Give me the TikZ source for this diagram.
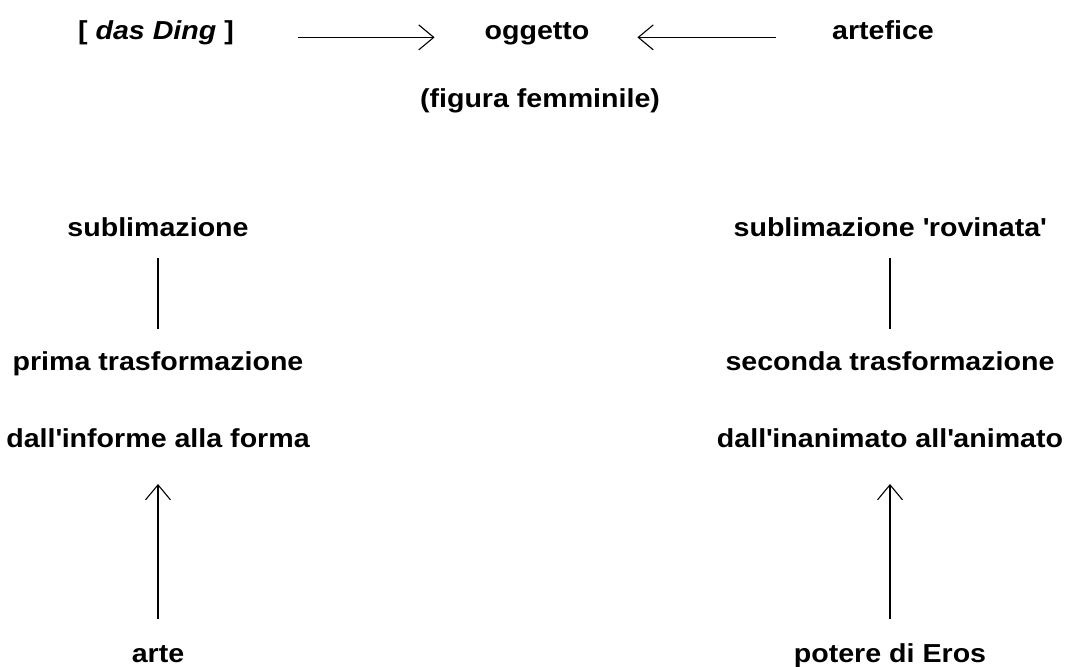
\documentclass[tikz,border=0pt]{standalone}
\usepackage{fontspec}
\setmainfont{Liberation Sans}[FakeStretch=1.1]
\usepackage{tikz}
\usetikzlibrary{arrows.meta}

\begin{document}
\begin{tikzpicture}[
  x=1pt, y=-1pt,
  lbl/.style={anchor=base, inner sep=0pt, outer sep=0pt,
              text height=19pt, text depth=5pt,
              font=\fontsize{26}{30}\selectfont\bfseries},
  arr/.style={-{Straight Barb[length=15pt,width=25pt]}, line width=1.1pt},
  link/.style={line width=1.1pt}
]
\useasboundingbox (0,0) rectangle (1067,666);

% riga in alto
\node[lbl] (ding) at (156,40) {[ \textit{das Ding} ]};
\node[lbl] (ogg)  at (537,40) {oggetto};
\node[lbl] (art)  at (883,40) {artefice};
\node[lbl] (fig)  at (540,107) {(figura femminile)};
\draw[arr, shorten <=64pt, shorten >=50pt] (ding.mid east) -- (ogg.mid west);
\draw[arr, shorten <=56pt, shorten >=48pt] (art.mid west) -- (ogg.mid east);

% colonna sinistra
\node[lbl] (sub1)  at (158,236) {sublimazione};
\node[lbl] (tra1)  at (158,370) {prima trasformazione};
\node[lbl] (dal1)  at (158,447) {dall\textquotesingle informe alla forma};
\node[lbl] (arte)  at (158,662) {arte};
\draw[link, shorten <=17pt, shorten >=22pt] (sub1) -- (tra1);
\draw[arr, shorten <=24pt, shorten >=32pt] (arte) -- (dal1);

% colonna destra
\node[lbl] (sub2)  at (890,236) {sublimazione \textquotesingle rovinata\textquotesingle};
\node[lbl] (tra2)  at (890,370) {seconda trasformazione};
\node[lbl] (dal2)  at (890,447) {dall\textquotesingle inanimato all\textquotesingle animato};
\node[lbl] (eros)  at (890,662) {potere di Eros};
\draw[link, shorten <=17pt, shorten >=22pt] (sub2) -- (tra2);
\draw[arr, shorten <=24pt, shorten >=32pt] (eros) -- (dal2);
\end{tikzpicture}
\end{document}
